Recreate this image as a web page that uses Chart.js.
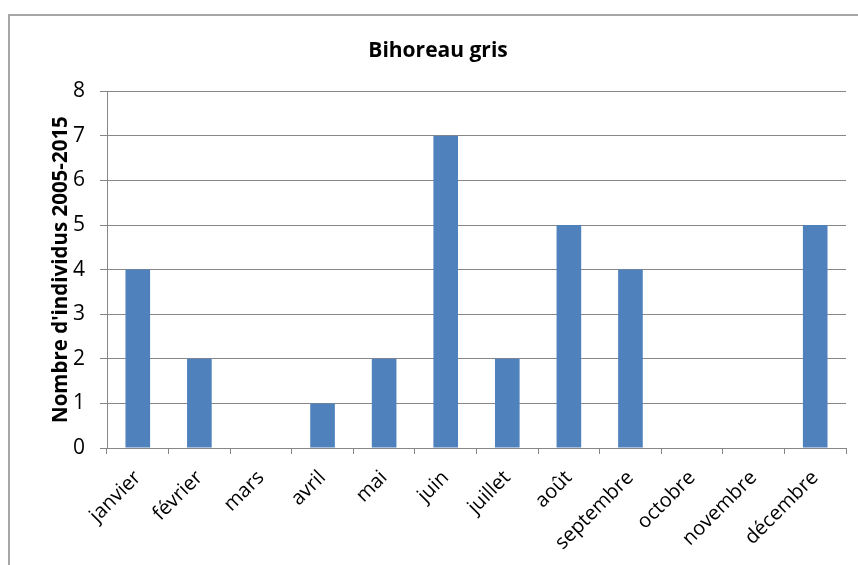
<!DOCTYPE html>
<html>
<head>
<meta charset="utf-8">
<script src="https://cdn.jsdelivr.net/npm/chart.js@4/dist/chart.umd.min.js"></script>
<style>
  html, body { margin: 0; padding: 0; background: #fff; }
  #wrap { position: relative; width: 858px; height: 565px; overflow: hidden; }
  #frame { position: absolute; left: 8px; top: 14px; width: 900px; height: 600px; border: 2px solid #a6a6a6; box-sizing: border-box; }
  canvas { position: absolute; left: 0; top: 0; }
</style>
</head>
<body>
<div id="wrap">
  <div id="frame"></div>
  <canvas id="bar-chart" width="858" height="565"></canvas>
</div>
<script>
  var mois = ["janvier", "février", "mars", "avril", "mai", "juin", "juillet", "août", "septembre", "octobre", "novembre", "décembre"];
  var individus = [4, 2, 0, 1, 2, 7, 2, 5, 4, 0, 0, 5];
  var titre = "Bihoreau gris";
  var titreAxe = "Nombre d'individus 2005-2015";

  var police = "'Open Sans', sans-serif";
  var gris = "#878787";

  new Chart(document.getElementById("bar-chart"), {
    type: 'bar',
    data: {
      labels: mois,
      datasets: [{
        label: titre,
        backgroundColor: "#4f81bd",
        data: individus,
        categoryPercentage: 1,
        barPercentage: 0.4
      }]
    },
    options: {
      responsive: false,
      animation: false,
      layout: { padding: { left: 30, right: 12, top: 0, bottom: 0 } },
      plugins: {
        legend: { display: false },
        tooltip: { enabled: false },
        title: {
          display: true,
          text: titre,
          color: "#000",
          font: { family: police, size: 21, weight: 'bold' },
          padding: { top: 38, bottom: 28 }
        }
      },
      scales: {
        x: {
          grid: { drawOnChartArea: false, drawTicks: true, tickLength: 6, color: gris, offset: true },
          border: { display: true, color: gris, width: 1 },
          ticks: { color: "#000", font: { family: police, size: 20 }, minRotation: 45, maxRotation: 45, padding: 12 },
          afterFit: function (s) { s.height = 117; }
        },
        y: {
          min: 0,
          max: 8,
          ticks: { stepSize: 1, color: "#000", font: { family: police, size: 21 }, padding: 15 },
          grid: { color: gris, tickLength: 7 },
          border: { display: true, color: gris, width: 1 },
          title: {
            display: true,
            text: titreAxe,
            color: "#000",
            font: { family: police, size: 20.5, weight: 'bold' },
            padding: { top: 19, bottom: 0 }
          },
          afterFit: function (s) { s.width = 77; }
        }
      }
    }
  });
</script>
</body>
</html>
